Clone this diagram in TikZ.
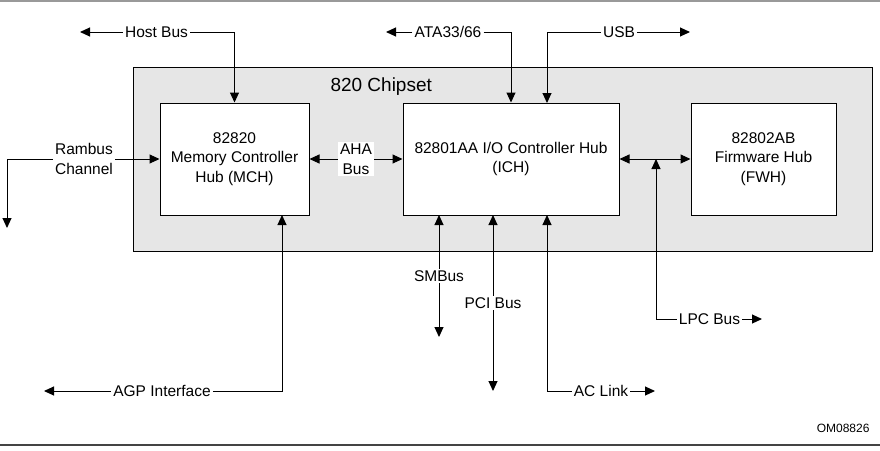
\documentclass[tikz,border=0pt]{standalone}
\usepackage{fontspec}
\setmainfont{Liberation Sans}
\usetikzlibrary{arrows.meta}
\definecolor{chipgray}{HTML}{E6E6E6}
\definecolor{rulegray}{HTML}{999999}
\definecolor{rulebottom}{HTML}{444444}
\begin{document}
\begin{tikzpicture}[x=1pt,y=-1pt,
  txt/.style={font=\fontsize{15.5}{19.5}\selectfont, align=center},
  hub/.style={draw, line width=1pt, fill=white, txt, minimum height=112pt},
  lbl/.style={fill=white, txt, inner xsep=2pt, inner ysep=1.5pt},
  arr/.style={line width=1pt, -{Triangle[length=10pt,width=9pt]}},
  dbl/.style={line width=1pt, {Triangle[length=10pt,width=9pt]}-{Triangle[length=10pt,width=9pt]}}]
\useasboundingbox (0,0) rectangle (880,450);
\draw[rulegray, line width=1.2pt] (0,1) -- (880,1);
\draw[rulebottom, line width=1.5pt] (0,445) -- (880,445);

% chipset and hubs
\node[draw, line width=1pt, fill=chipgray, minimum width=739pt, minimum height=184pt] (chip) at (502.5,159) {};
\node[anchor=west, font=\fontsize{19}{22}\selectfont] (chipname) at (327,87) {820 Chipset};
\node[hub, minimum width=149pt] (mch) at (234.5,159) {82820\\Memory Controller\\Hub (MCH)};
\node[hub, minimum width=216pt] (ich) at (511,159) {82801AA I/O Controller Hub\\(ICH)};
\node[hub, minimum width=145pt] (fwh) at (763.5,159) {82802AB\\Firmware Hub\\(FWH)};

% end points
\coordinate (hostend) at (80,32);
\coordinate (ataend) at (386,32);
\coordinate (usbend) at (690,32);
\coordinate (usbin) at (547,103);
\coordinate (rambend) at (7,228);
\coordinate (smbin) at (439,215);
\coordinate (smbend) at (439,337);
\coordinate (pciin) at (493,215);
\coordinate (pciend) at (493,391);
\coordinate (acin) at (547,215);
\coordinate (acend) at (655,391);
\coordinate (agpin) at (282,215);
\coordinate (agpend) at (44,391);
\coordinate (lpctop) at (656,159);
\coordinate (lpcend) at (762,319);

% labels
\node[lbl] (host) at (156.5,32) {Host Bus};
\node[lbl] (ata) at (448,32) {ATA33/66};
\node[lbl] (usb) at (619,32) {USB};
\node[lbl] (ramb) at (84,159) {Rambus\\Channel};
\node[lbl] (smb) at (439,276) {SMBus};
\node[lbl] (pci) at (493,303) {PCI Bus};
\node[lbl] (ac) at (601,391) {AC Link};
\node[lbl] (agp) at (162,391) {AGP Interface};
\node[lbl] (lpc) at (709.5,319) {LPC Bus};

% buses
\draw[arr] (host) -- (hostend);
\draw[arr] (host) -| (mch.north);
\draw[arr] (ata) -- (ataend);
\draw[arr] (ata) -| (ich.north);
\draw[arr] (usb) -- (usbend);
\draw[arr] (usb) -| (usbin);
\draw[arr] (ramb) -- (mch);
\draw[arr] (ramb) -| (rambend);
\draw[dbl] (mch) -- node[lbl] (aha) {AHA\\Bus} (ich);
\draw[dbl] (ich) -- (fwh);
\draw[arr] (lpc) -| (lpctop);
\draw[arr] (lpc) -- (lpcend);
\draw[arr] (smb) -- (smbin);
\draw[arr] (smb) -- (smbend);
\draw[arr] (pci) -- (pciin);
\draw[arr] (pci) -- (pciend);
\draw[arr] (ac) -| (acin);
\draw[arr] (ac) -- (acend);
\draw[arr] (agp) -| (agpin);
\draw[arr] (agp) -- (agpend);

\node[anchor=east, font=\fontsize{12}{14}\selectfont] (omref) at (873,428) {OM08826};
\end{tikzpicture}
\end{document}
